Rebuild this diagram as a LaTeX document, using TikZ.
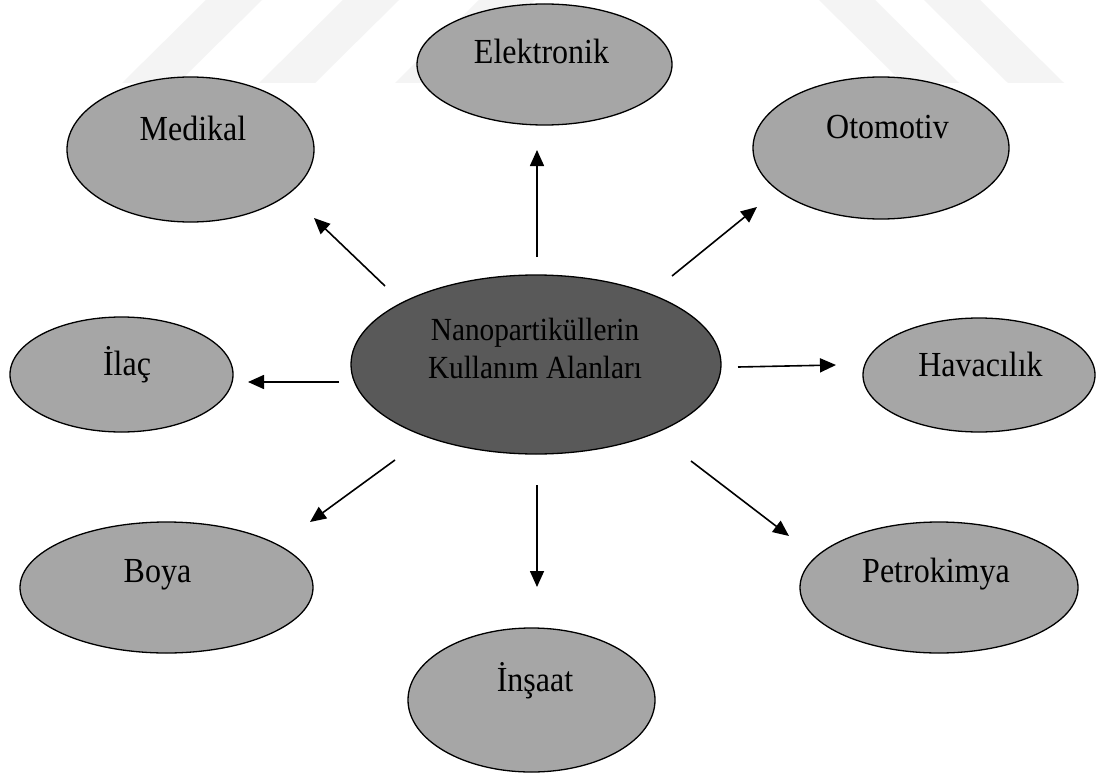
\documentclass[tikz,border=0pt]{standalone}
\usepackage{graphicx}
\usepackage{fontspec}
\setmainfont{Liberation Serif}
\usetikzlibrary{shapes.geometric,arrows.meta}
\definecolor{fillA}{HTML}{A6A6A6}
\definecolor{fillC}{HTML}{595959}
\definecolor{wmark}{HTML}{F4F4F4}
\newcommand{\tallt}[1]{\scalebox{1}[1.1]{#1}}
\tikzset{
  oval/.style={ellipse, draw=black, line width=1.3pt, fill=fillA, inner sep=0pt},
  central/.style={oval, fill=fillC},
  lbl/.style={anchor=base, inner sep=0pt, font=\fontsize{32}{38}\selectfont},
  clbl/.style={lbl, font=\fontsize{29.3}{36}\selectfont},
  conn/.style={line width=1.6pt, -{Triangle[length=16pt,width=14pt]}},
  wm/.style={fill=wmark, draw=none}
}
\begin{document}
\begin{tikzpicture}[x=1pt,y=-1pt]
\useasboundingbox (0,0) rectangle (1097,773);
\fill[white] (0,0) rectangle (1097,773);
% faint watermark stripes
\fill[wm] (122,83) -- (178,83) -- (262,0) -- (206,0) -- cycle;
\fill[wm] (259,83) -- (315,83) -- (399,0) -- (343,0) -- cycle;
\fill[wm] (395,83) -- (451,83) -- (535,0) -- (479,0) -- cycle;
\fill[wm] (903,83) -- (959,83) -- (875,0) -- (819,0) -- cycle;
\fill[wm] (1008,83) -- (1064,83) -- (980,0) -- (924,0) -- cycle;

% ellipses
\node[central, minimum width=370pt, minimum height=179pt] (cen) at (536,364.5) {};
\node[oval, minimum width=255pt, minimum height=121pt] (ele) at (544.5,64.5) {};
\node[oval, minimum width=247pt, minimum height=145pt] (med) at (190.5,149.5) {};
\node[oval, minimum width=256pt, minimum height=142pt] (oto) at (881,148) {};
\node[oval, minimum width=223pt, minimum height=115pt] (ila) at (121.5,374.5) {};
\node[oval, minimum width=232pt, minimum height=114pt] (hav) at (979,375) {};
\node[oval, minimum width=293pt, minimum height=131pt] (boy) at (166.5,587.5) {};
\node[oval, minimum width=278pt, minimum height=131pt] (pet) at (939,587.5) {};
\node[oval, minimum width=247pt, minimum height=144pt] (ins) at (531.5,700) {};

% labels
\node[clbl] (cent1) at (535,340) {\tallt{Nanopartiküllerin}};
\node[clbl] (cent2) at (535,378) {\tallt{Kullanım Alanları}};
\node[lbl] (elet) at (541.5,64) {\tallt{Elektronik}};
\node[lbl] (medt) at (193,140) {\tallt{Medikal}};
\node[lbl] (otot) at (887.5,139) {\tallt{Otomotiv}};
\node[lbl] (ilat) at (127,375) {\tallt{İlaç}};
\node[lbl] (havt) at (980.5,376) {\tallt{Havacılık}};
\node[lbl] (boyt) at (157.5,582) {\tallt{Boya}};
\node[lbl] (pett) at (936,582) {\tallt{Petrokimya}};
\node[lbl] (inst) at (535,691) {\tallt{İnşaat}};

% arrow end points
\coordinate (aEs) at (537,257);  \coordinate (aEe) at (537,150);
\coordinate (aMs) at (385,286);  \coordinate (aMe) at (314,218);
\coordinate (aOs) at (672,276);  \coordinate (aOe) at (757,207);
\coordinate (aIs) at (339,382);  \coordinate (aIe) at (248,382);
\coordinate (aHs) at (738,367);  \coordinate (aHe) at (836,365);
\coordinate (aBs) at (395,460);  \coordinate (aBe) at (310,522);
\coordinate (aNs) at (537,485);  \coordinate (aNe) at (537,587);
\coordinate (aPs) at (691,461);  \coordinate (aPe) at (789,536);

\draw[conn] (aEs) -- (aEe);
\draw[conn] (aMs) -- (aMe);
\draw[conn] (aOs) -- (aOe);
\draw[conn] (aIs) -- (aIe);
\draw[conn] (aHs) -- (aHe);
\draw[conn] (aBs) -- (aBe);
\draw[conn] (aNs) -- (aNe);
\draw[conn] (aPs) -- (aPe);
\end{tikzpicture}
\end{document}
